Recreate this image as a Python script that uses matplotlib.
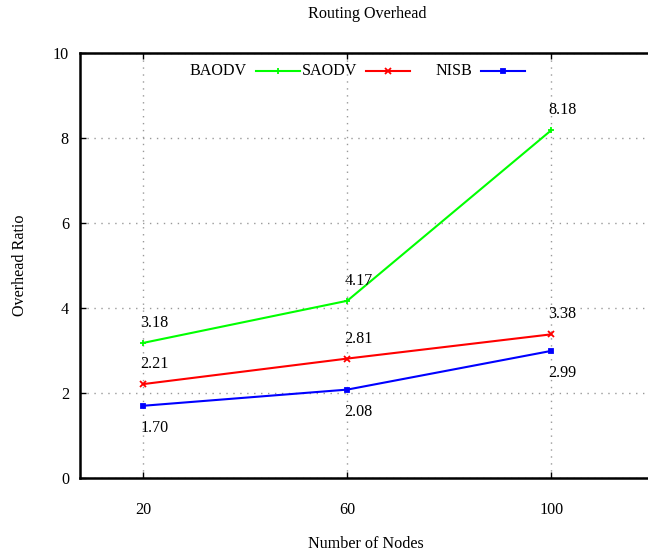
import matplotlib
matplotlib.use("Agg")
import matplotlib.pyplot as plt
from matplotlib.lines import Line2D

nodes = [20, 60, 100]
baodv = [3.18, 4.17, 8.18]
saodv = [2.21, 2.81, 3.38]
nisb = [1.70, 2.08, 2.99]
series_names = ["BAODV", "SAODV", "NISB"]
y_ticks = [0, 2, 4, 6, 8, 10]

plt.rcParams['font.family'] = ['Liberation Serif', 'DejaVu Serif']
FS = 11.6

W, H = 648, 554
fig = plt.figure(figsize=(W / 100, H / 100), dpi=100)
ax = fig.add_axes([80 / W, (H - 478) / H, (652 - 80) / W, 425 / H])
ax.set_xlim(7.55, 119.8)
ax.set_ylim(0, 10)

colors = ["#00ff00", "#ff0000", "#0000ff"]
markers = ["+", "x", "s"]
msizes = [5, 4, 3]
data = [baodv, saodv, nisb]
for vals, c, m, ms in zip(data, colors, markers, msizes):
    ax.plot(nodes, vals, color=c, lw=1.5, marker=m, ms=ms, mew=1.3, zorder=3)

# value labels (above or below)
above = [[True, True, True], [True, True, True], [False, False, False]]
for vals, ab in zip(data, above):
    for x, v, a in zip(nodes, vals, ab):
        dy = 20 if a else -22
        ax.annotate(f"{v:.2f}", (x, v), xytext=(-3, dy), textcoords='offset pixels',
                    ha='left', va='center', fontsize=FS)

ax.set_xticks(nodes)
ax.set_xticklabels([str(n) for n in nodes])
ax.set_yticks(y_ticks)
ax.tick_params(direction='in', length=4, width=1, labelsize=FS, top=True, right=False)
ax.tick_params(axis='x', pad=17)
ax.tick_params(axis='y', pad=8)
ax.grid(True, color='#999999', linestyle=(0, (1, 4)), lw=1)
ax.set_axisbelow(True)
for s in ['left', 'bottom', 'top']:
    ax.spines[s].set_linewidth(1.8)
ax.spines['right'].set_visible(False)

ax.set_xlabel("Number of Nodes", fontsize=FS)
ax.xaxis.set_label_coords(0.5, -(536 - 478) / 425)
ax.set_ylabel("Overhead Ratio", fontsize=FS, labelpad=18)
fig.text(367 / W, 1 - 14 / H, "Routing Overhead", ha='center', va='center', fontsize=FS)

# manual gnuplot-like key
text_ends = [247, 357, 472]
ky = 1 - 71 / H
for name, tend, c, m, ms in zip(series_names, text_ends, colors, markers, msizes):
    fig.text(tend / W, ky, name, ha='right', va='center', fontsize=FS)
    x0, x1 = (tend + 9) / W, (tend + 53) / W
    fig.add_artist(Line2D([x0, x1], [ky, ky], color=c, lw=1.5, transform=fig.transFigure))
    fig.add_artist(Line2D([(x0 + x1) / 2], [ky], color=c, marker=m, ms=ms, mew=1.3,
                          transform=fig.transFigure))

fig.savefig("out.png", dpi=100)
